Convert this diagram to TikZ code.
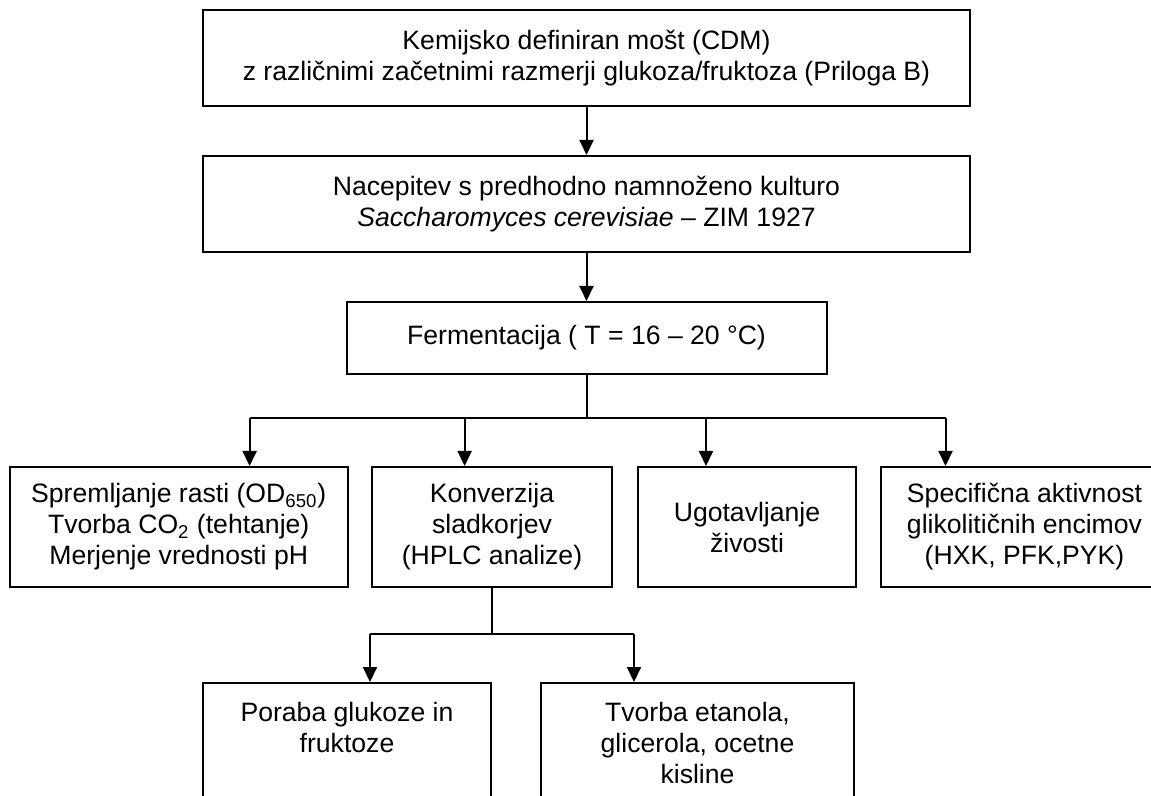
\documentclass[tikz,border=0pt]{standalone}
\usepackage{fontspec}
\setmainfont{Liberation Sans}
\usetikzlibrary{arrows.meta, positioning}
\tikzstyle{flow}=[x=0.5pt, y=-0.5pt, line width=1pt,
                  >={Triangle[length=7.5pt, width=7pt]}]
\tikzstyle{box}=[draw, rectangle, align=center, line width=1pt,
                 font=\fontsize{13.3}{15.5}\selectfont]
\tikzstyle{row}=[box, minimum height=60pt]

\begin{document}
\begin{tikzpicture}[flow]
  \useasboundingbox (0,0) rectangle (1151,796);
  \node[box, minimum width=383.5pt, minimum height=48pt] (cdm) at (586.5,58)
    {Kemijsko definiran mošt (CDM)\\z različnimi začetnimi razmerji glukoza/fruktoza (Priloga B)};
  \node[box, minimum width=383.5pt, minimum height=48pt] (nacep) [below=24pt of cdm]
    {Nacepitev s predhodno namnoženo kulturo\\\textit{Saccharomyces cerevisiae} – ZIM 1927};
  \node[box, minimum width=240pt, minimum height=36pt] (ferm) [below=24pt of nacep]
    {Fermentacija ( T = 16 – 20 °C)};
  \node[row, minimum width=168.75pt, anchor=north west] (rast) at (9,466)
    {Spremljanje rasti (OD\textsubscript{650})\\Tvorba CO\textsubscript{2} (tehtanje)\\Merjenje vrednosti pH};
  \node[row, minimum width=120pt] (konv) [right=11.25pt of rast]
    {Konverzija\\sladkorjev\\(HPLC analize)};
  \node[row, minimum width=109pt] (ziv) [right=12pt of konv]
    {Ugotavljanje\\živosti};
  \node[row, minimum width=144pt] (encim) [right=11.25pt of ziv]
    {Specifična aktivnost\\glikolitičnih encimov\\(HXK, PFK,PYK)};
  \node[row, minimum width=144pt, anchor=north west] (poraba) at (202,682)
    {Poraba glukoze in\\fruktoze\\~};
  \node[row, minimum width=156.5pt] (tvorba) [right=24pt of poraba]
    {Tvorba etanola,\\glicerola, ocetne\\kisline};
  \coordinate (b1) at (249.6,418);
  \coordinate (b2) at (464.6,418);
  \coordinate (b3) at (706,418);
  \coordinate (b4) at (945.5,418);
  \coordinate (c1) at (370,634);
  \coordinate (c2) at (634,634);
  \draw[->] (cdm) -- (nacep);
  \draw[->] (nacep) -- (ferm);
  \draw (ferm.south) -- (ferm.south |- b1);
  \draw (b1) -- (b4);
  \draw[->] (b1) -- (b1 |- rast.north);
  \draw[->] (b2) -- (b2 |- konv.north);
  \draw[->] (b3) -- (b3 |- ziv.north);
  \draw[->] (b4) -- (b4 |- encim.north);
  \draw (konv.south) -- (konv.south |- c1);
  \draw (c1) -- (c2);
  \draw[->] (c1) -- (c1 |- poraba.north);
  \draw[->] (c2) -- (c2 |- tvorba.north);
\end{tikzpicture}
\end{document}
